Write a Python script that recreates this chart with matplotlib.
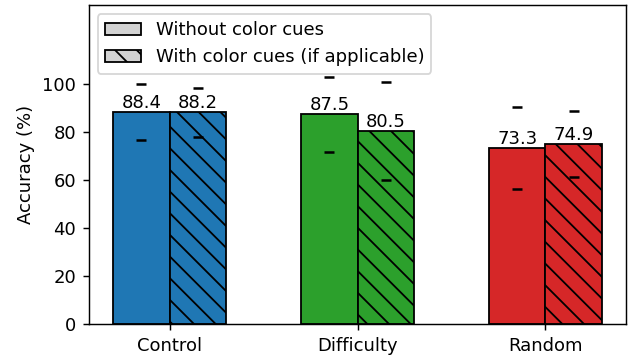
import numpy as np
import matplotlib
matplotlib.use("Agg")
import matplotlib.pyplot as plt
from matplotlib.patches import Patch

# accuracy per condition, with and without color cues
conditions = ["Control", "Difficulty", "Random"]
acc_without = [88.4, 87.5, 73.3]
acc_with = [88.2, 80.5, 74.9]
std_without = [11.7, 15.6, 17.0]
std_with = [10.2, 20.4, 13.8]
bar_colors = ["tab:blue", "tab:green", "tab:red"]

x = np.arange(len(conditions))
width = 0.3

dpi = 130
fig = plt.figure(figsize=(630 / dpi, 360 / dpi), dpi=dpi)
ax = fig.add_axes([0.141, 0.1, 0.853, 0.886])

b1 = ax.bar(x - width / 2, acc_without, width, color=bar_colors, edgecolor="black")
b2 = ax.bar(x + width / 2, acc_with, width, color=bar_colors, edgecolor="black", hatch="\\\\")

# only the caps of the error bars are shown
ax.errorbar(x - width / 2, acc_without, yerr=std_without, fmt="none",
            ecolor="black", elinewidth=0, capsize=3, capthick=1.4)
ax.errorbar(x + width / 2, acc_with, yerr=std_with, fmt="none",
            ecolor="black", elinewidth=0, capsize=3, capthick=1.4)

ax.bar_label(b1, labels=[f"{v:.1f}" for v in acc_without], fontsize=10)
ax.bar_label(b2, labels=[f"{v:.1f}" for v in acc_with], fontsize=10)

ax.set_xticks(x)
ax.set_xticklabels(conditions)
ax.set_yticks(range(0, 101, 20))
ax.set_ylim(0, 133)
ax.set_ylabel("Accuracy (%)")

handles = [
    Patch(facecolor="lightgray", edgecolor="black", label="Without color cues"),
    Patch(facecolor="lightgray", edgecolor="black", hatch="\\\\", label="With color cues (if applicable)"),
]
ax.legend(handles=handles, loc="upper left")

plt.savefig("out.png", dpi=dpi)
